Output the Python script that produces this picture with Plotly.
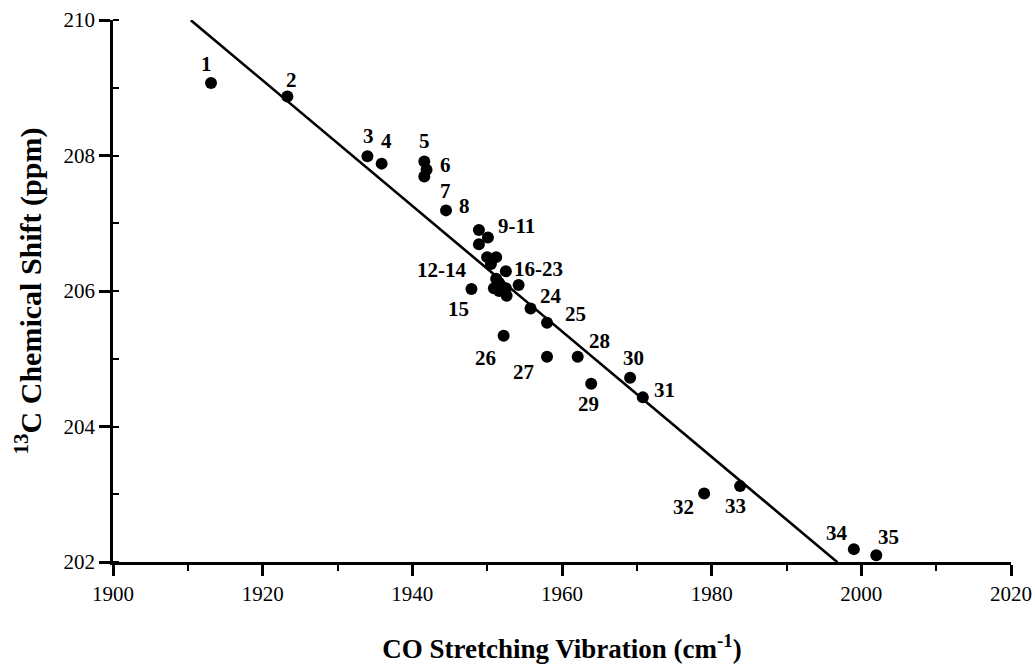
import plotly.graph_objects as go

# Data
ids = [str(i) for i in range(1, 36)]
co_freq = [1913.1, 1923.3, 1934.0, 1935.9, 1941.6, 1941.9, 1941.6, 1944.5,
           1948.9, 1950.1, 1948.9,
           1950.0, 1951.2, 1950.5,
           1947.9,
           1952.5, 1951.2, 1951.6, 1950.9, 1951.6, 1952.5, 1954.2, 1952.6,
           1955.8, 1958.0, 1952.2, 1958.0, 1962.1, 1963.9, 1969.1, 1970.8,
           1979.0, 1983.8, 1999.0, 2002.0]
shift_ppm = [209.07, 208.87, 207.99, 207.88, 207.91, 207.79, 207.69, 207.19,
             206.90, 206.79, 206.69,
             206.50, 206.50, 206.40,
             206.03,
             206.29, 206.18, 206.12, 206.04, 206.00, 206.04, 206.09, 205.93,
             205.74, 205.53, 205.34, 205.03, 205.03, 204.63, 204.72, 204.43,
             203.01, 203.12, 202.19, 202.10]

label_texts = ["1", "2", "3", "4", "5", "6", "7", "8", "9-11", "12-14", "15",
               "16-23", "24", "25", "26", "27", "28", "29", "30", "31", "32",
               "33", "34", "35"]
label_anchor = [1, 2, 3, 4, 5, 6, 7, 8, 9, 12, 15, 16, 24, 25, 26, 27, 28, 29,
                30, 31, 32, 33, 34, 35]

fit_slope = -0.0926
fit_intercept = 386.90
fit_x_range = [1910.4, 1996.8]

x_ticks = [1900, 1920, 1940, 1960, 1980, 2000, 2020]
y_ticks = [202, 204, 206, 208, 210]

# label offsets in pixels (dx, dy screen; dy positive = down)
label_offsets = {
    "1": (-5, -19), "2": (4, -17), "3": (1, -20), "4": (5, -23), "5": (0, -21),
    "6": (19, -5), "7": (21, 14), "8": (18, -4), "9-11": (38, -4),
    "12-14": (-46, 13), "15": (-13, 20), "16-23": (33, -2), "24": (20, -13),
    "25": (28, -9), "26": (-18, 22), "27": (-24, 15), "28": (22, -16),
    "29": (-3, 20), "30": (3, -20), "31": (22, -7), "32": (-21, 13),
    "33": (-5, 20), "34": (-17, -16), "35": (12, -18),
}

SERIF = "Liberation Serif"

fig = go.Figure()

fx = fit_x_range
fy = [fit_slope * v + fit_intercept for v in fx]
fig.add_trace(go.Scatter(x=fx, y=fy, mode="lines",
                         line=dict(color="black", width=2.6),
                         showlegend=False, hoverinfo="skip", cliponaxis=False))

fig.add_trace(go.Scatter(x=co_freq, y=shift_ppm, mode="markers",
                         marker=dict(color="black", size=12),
                         text=ids, showlegend=False, cliponaxis=False))

for txt, a in zip(label_texts, label_anchor):
    dx, dy = label_offsets[txt]
    fig.add_annotation(x=co_freq[a - 1], y=shift_ppm[a - 1], text="<b>" + txt + "</b>",
                       showarrow=False, xshift=dx, yshift=-dy,
                       font=dict(family=SERIF, size=21, color="black"))

fig.update_layout(
    width=1035, height=664,
    margin=dict(l=113, r=24, t=20, b=102),
    paper_bgcolor="white", plot_bgcolor="white",
    font=dict(family=SERIF, color="black"),
)

fig.update_xaxes(
    range=[1900, 2020], tickvals=x_ticks, ticktext=[str(v) for v in x_ticks],
    showline=True, linecolor="black", linewidth=2.5, showgrid=False, zeroline=False,
    ticks="outside", ticklen=11, tickwidth=2.5, tickcolor="black",
    tickfont=dict(family=SERIF, size=21, color="black"),
    minor=dict(ticks="outside", dtick=10, ticklen=6, tickwidth=2, tickcolor="black", showgrid=False),
    automargin=False,
    title=dict(text="<b>CO Stretching Vibration (cm<sup>-1</sup>)</b>",
               font=dict(family=SERIF, size=27, color="black"),
               standoff=36),
)
fig.update_yaxes(
    range=[202, 210], tickvals=y_ticks, ticktext=[str(v) for v in y_ticks],
    showline=True, linecolor="black", linewidth=2.5, showgrid=False, zeroline=False,
    ticks="outside", ticklen=11, tickwidth=2.5, tickcolor="black",
    tickfont=dict(family=SERIF, size=21, color="black"),
    minor=dict(ticks="inside", dtick=1, ticklen=6, tickwidth=2, tickcolor="black", showgrid=False),
    automargin=False,
    title=dict(text="<b><sup>13</sup>C Chemical Shift (ppm)</b>",
               font=dict(family=SERIF, size=30, color="black"),
               standoff=14),
)

fig.write_html("out.html")
